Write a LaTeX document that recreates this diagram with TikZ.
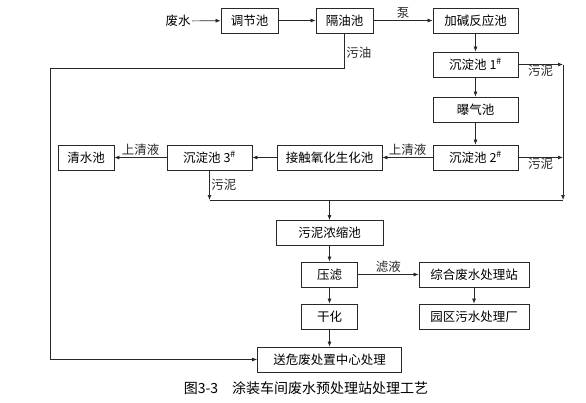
\documentclass[tikz,border=0pt]{standalone}
\usepackage{fontspec}
\setmainfont{Noto Sans CJK SC}
\usepackage{tikz}
\usetikzlibrary{arrows.meta,positioning}
\definecolor{lineGray}{RGB}{40,40,40}

\begin{document}
\begin{tikzpicture}[x=1pt,y=-1pt,
  box/.style={rectangle,draw=lineGray,line width=0.8pt,fill=white,font=\fontsize{12.5}{14}\selectfont,
              inner sep=0pt,minimum height=25pt,align=center},
  flow/.style={-{Latex[length=5pt,width=4pt]},line width=0.7pt,lineGray},
  pipe/.style={line width=0.7pt,lineGray},
  lbl/.style={font=\fontsize{12.5}{14}\selectfont,inner sep=1.5pt}
]
  \useasboundingbox (0,0) rectangle (586,402);
  % top row
  \node[lbl] (fs) at (178,21) {废水};
  \node[box,minimum width=57pt] (tj) at (249.5,20.5) {调节池};
  \node[box,minimum width=57pt] (gy) at (344.5,20.5) {隔油池};
  \node[box,minimum width=85pt] (jj) at (475.5,20.5) {加碱反应池};
  % right column
  \node[box,minimum width=85pt] (cd1) at (475.5,64.5)  {沉淀池 1$^{\#}$};
  \node[box,minimum width=85pt] (bq)  at (475.5,109.5) {曝气池};
  \node[box,minimum width=85pt] (cd2) at (475.5,157.5) {沉淀池 2$^{\#}$};
  % middle row
  \node[box,minimum width=105pt] (jc)  at (329.5,157.5) {接触氧化生化池};
  \node[box,minimum width=85pt]  (cd3) at (209.5,157.5) {沉淀池 3$^{\#}$};
  \node[box,minimum width=56pt]  (qs)  at (86,157.5)    {清水池};
  % sludge line
  \node[box,minimum width=107pt] (wn) at (329.5,233)   {污泥浓缩池};
  \node[box,minimum width=56pt]  (yl) at (329.5,274.5) {压滤};
  \node[box,minimum width=56pt]  (gh) at (329.5,316.5) {干化};
  \node[box,minimum width=110pt] (zh) at (474,274.5)   {综合废水处理站};
  \node[box,minimum width=110pt] (yq) at (474,316.5)   {园区污水处理厂};
  \node[box,minimum width=144pt] (sw) at (329.5,359.5) {送危废处置中心处理};
  % junctions
  \coordinate (oilA) at (gy.south |- 0,68);
  \coordinate (oilB) at (50,68);
  \coordinate (oilC) at (50,359.5);
  \coordinate (r1) at (563,64.5);
  \coordinate (r2) at (563,157.5);
  \coordinate (rb) at (563,200);
  \coordinate (lb) at (cd3.south |- 0,200);
  \coordinate (mb) at (wn.north |- 0,200);
  % top flow
  \draw[flow] (fs) -- (tj);
  \draw[flow] (tj) -- (gy);
  \draw[flow] (gy) -- (jj) node[lbl,above,midway]{泵};
  \draw[pipe] (gy.south) -- (oilA) node[lbl,right,midway,yshift=-2pt]{污油};
  \draw[flow] (oilA) -- (oilB) -- (oilC) -- (sw.west);
  \draw[flow] (jj) -- (cd1);
  \draw[flow] (cd1) -- (bq);
  \draw[flow] (bq) -- (cd2);
  % sludge to right
  \draw[flow] (cd1.east) -- (r1) node[lbl,below,midway,yshift=1pt]{污泥};
  \draw[flow] (cd2.east) -- (r2) node[lbl,below,midway,yshift=1pt]{污泥};
  \draw[flow] (r1) -- (rb);
  % clear liquid back
  \draw[flow] (cd2) -- (jc) node[lbl,above,midway]{上清液};
  \draw[flow] (jc) -- (cd3);
  \draw[flow] (cd3) -- (qs) node[lbl,above,midway]{上清液};
  \draw[flow] (cd3.south) -- (lb) node[lbl,right,midway]{污泥};
  \draw[pipe] (lb) -- (rb);
  % sludge treatment
  \draw[flow] (mb) -- (wn);
  \draw[flow] (wn) -- (yl);
  \draw[flow] (yl) -- (gh);
  \draw[flow] (gh) -- (sw);
  \draw[flow] (yl) -- (zh) node[lbl,above,midway]{滤液};
  \draw[flow] (zh) -- (yq);
  % caption
  \node[font=\fontsize{14}{16}\selectfont] (cap) at (306,388) {图3-3\hspace{1em}涂装车间废水预处理站处理工艺};
\end{tikzpicture}
\end{document}
